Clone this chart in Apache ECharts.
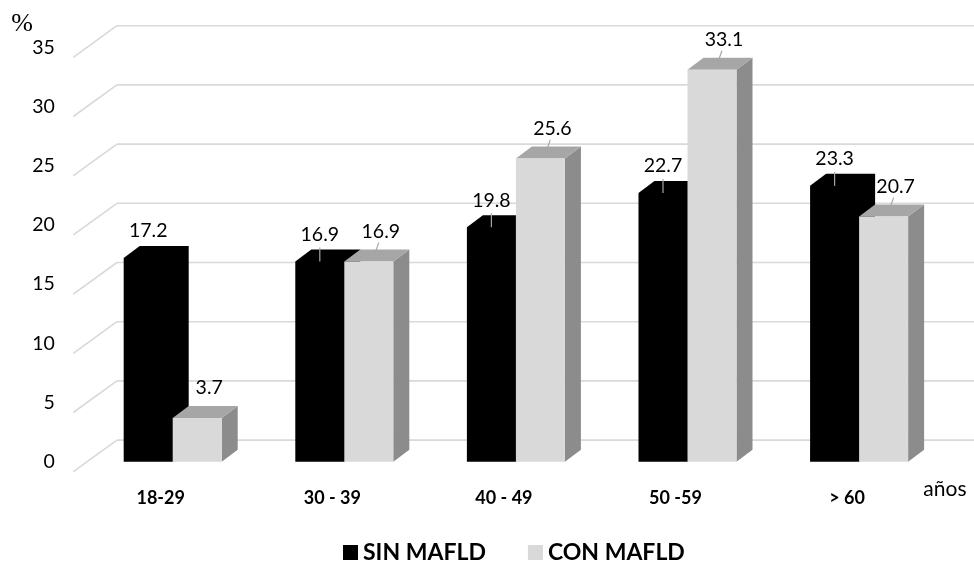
<!DOCTYPE html>
<html><head><meta charset="utf-8">
<script src="https://cdn.jsdelivr.net/npm/echarts@6/dist/echarts.min.js"></script>
<style>html,body{margin:0;padding:0;background:#fff}#c{width:974px;height:564px}</style>
</head><body><div id="c"></div>
<script>
const categories = ['18-29', '30 - 39', '40 - 49', '50 -59', '> 60'];
const sinMafld = [17.2, 16.9, 19.8, 22.7, 23.3];
const conMafld = [3.7, 16.9, 25.6, 33.1, 20.7];
const yTicks = [0, 5, 10, 15, 20, 25, 30, 35];

const DX = 16, DY = -12;
const FONT = 'Lato, "Open Sans", sans-serif';

function barRenderer(kind) {
  return function (params, api) {
    const i = api.value(0), v = api.value(1);
    const top = api.coord([i, v]);
    const base = api.coord([i, 0]);
    const w = api.size([1, 0])[0] * 0.2856;
    const x0 = kind === 'sin' ? top[0] - w : top[0];
    const x1 = x0 + w;
    const yT = top[1], yB = base[1];
    let children;
    if (kind === 'sin') {
      children = [
        { type: 'polygon', shape: { points: [[x0, yB], [x0, yT], [x0 + DX, yT + DY], [x1 + DX, yT + DY], [x1 + DX, yB + DY], [x1, yB]] }, style: { fill: '#000' } }
      ];
    } else {
      children = [
        { type: 'polygon', shape: { points: [[x1, yB], [x1 + DX, yB + DY], [x1 + DX, yT + DY], [x1, yT]] }, style: { fill: '#8c8c8c' } },
        { type: 'polygon', shape: { points: [[x0, yT], [x0 + DX, yT + DY], [x1 + DX, yT + DY], [x1, yT]] }, style: { fill: '#a6a6a6' } },
        { type: 'rect', shape: { x: x0, y: yT, width: w, height: yB - yT }, style: { fill: '#d9d9d9' } }
      ];
    }
    const fc = (x0 + x1) / 2;
    let lx, ly;
    if (kind === 'sin') {
      lx = fc; ly = yT - 27;
      if (i > 0) children.push({ type: 'line', shape: { x1: fc, y1: yT, x2: fc, y2: yT - 14 }, style: { stroke: '#a6a6a6', lineWidth: 1.2 } });
    } else {
      lx = fc + 12; ly = yT + DY - 18;
      if (i > 0) children.push({ type: 'line', shape: { x1: fc + 6, y1: yT + DY + 4, x2: lx - 2, y2: ly + 11 }, style: { stroke: '#a6a6a6', lineWidth: 1.2 } });
    }
    children.push({ type: 'text', style: { text: String(v), x: lx, y: ly, align: 'center', verticalAlign: 'middle', textAlign: 'center', textVerticalAlign: 'middle', font: '19.5px ' + FONT, fill: '#000' } });
    return { type: 'group', children: children };
  };
}

const chart = echarts.init(document.getElementById('c'), null, { renderer: 'canvas' });
chart.setOption({
  backgroundColor: '#fff',
  animation: false,
  grid: { left: 86.9, right: 29.1, top: 47.3, bottom: 102.3 },
  legend: {
    data: ['SIN MAFLD', 'CON MAFLD'],
    left: 338, top: 536,
    icon: 'rect', itemWidth: 15, itemHeight: 15, itemGap: 42,
    textStyle: { fontFamily: FONT, fontWeight: 'bold', fontSize: 23, color: '#000' }
  },
  xAxis: {
    type: 'category', data: categories,
    axisLine: { show: false }, axisTick: { show: false }, splitLine: { show: false },
    axisLabel: { interval: 0, margin: 27, padding: [0, 24, 0, 0], fontFamily: FONT, fontWeight: 'bold', fontSize: 18, color: '#000' },
    name: 'años', nameLocation: 'end', nameGap: 0,
    nameTextStyle: { align: 'center', verticalAlign: 'top', padding: [17, 0, 0, 0], fontFamily: FONT, fontSize: 21, color: '#000' }
  },
  yAxis: {
    type: 'value', min: 0, max: 35, interval: 5,
    axisLine: { show: false }, axisTick: { show: false }, splitLine: { show: false },
    axisLabel: { margin: 32, padding: [22, 0, 0, 0], fontFamily: FONT, fontSize: 19.5, color: '#000' },
    name: '%', nameLocation: 'end', nameGap: 22,
    nameTextStyle: { align: 'right', verticalAlign: 'middle', padding: [0, 54, 0, 0], fontFamily: '"Liberation Serif", serif', fontSize: 26, color: '#000' }
  },
  series: [
    {
      type: 'custom', name: 'grid', silent: true, z: 1,
      data: yTicks.map(v => [0, v]),
      renderItem: function (params, api) {
        const p = api.coord([0, api.value(1)]);
        const left = params.coordSys.x;
        const st = { stroke: '#d9d9d9', lineWidth: 1.6 };
        return { type: 'group', children: [
          { type: 'line', shape: { x1: left + 30, y1: p[1] - 21.6, x2: api.getWidth(), y2: p[1] - 21.6 }, style: st },
          { type: 'line', shape: { x1: left - 13.6, y1: p[1] + 10, x2: left + 30, y2: p[1] - 21.6 }, style: st }
        ] };
      }
    },
    {
      type: 'custom', name: 'SIN MAFLD', silent: true, z: 2,
      itemStyle: { color: '#000' },
      data: sinMafld.map((v, i) => [i, v]),
      renderItem: barRenderer('sin')
    },
    {
      type: 'custom', name: 'CON MAFLD', silent: true, z: 3,
      itemStyle: { color: '#d9d9d9' },
      data: conMafld.map((v, i) => [i, v]),
      renderItem: barRenderer('con')
    }
  ]
});
</script></body></html>
